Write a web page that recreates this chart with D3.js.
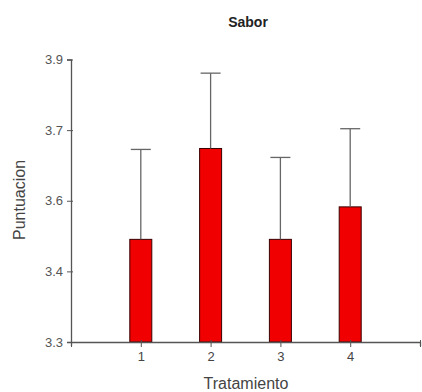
<!DOCTYPE html>
<html>
<head>
<meta charset="utf-8">
<script src="https://cdn.jsdelivr.net/npm/d3@7"></script>
<style>
  html, body { margin: 0; padding: 0; background: #fff; }
  svg { display: block; font-family: "Liberation Sans", Arial, sans-serif; }
</style>
</head>
<body>
<svg id="chart" width="422" height="392"></svg>
<script>
// Mean score per treatment and the upper end of its error bar
const treatments = [1, 2, 3, 4];
const means = [3.518, 3.711, 3.518, 3.587];
const upperErr = [3.709, 3.871, 3.692, 3.753];
const yTickValues = [3.3, 3.45, 3.6, 3.75, 3.9];
const yTickLabels = ["3.3", "3.4", "3.6", "3.7", "3.9"];
const xTickValues = [0, 1, 2, 3, 4, 5];
const xTickLabels = ["", "1", "2", "3", "4", ""];

const svg = d3.select("#chart");
const plotLeft = 71, plotRight = 420, plotTop = 59.5, plotBottom = 342;

const x = d3.scaleLinear().domain([0, 5]).range([plotLeft, plotRight]);
const y = d3.scaleLinear().domain([3.3, 3.9]).range([plotBottom, plotTop]);

const axisColor = "#555";
const barW = 22;

// Bars
svg.append("g").selectAll("rect")
  .data(treatments)
  .join("rect")
  .attr("x", (d) => x(d) - barW / 2)
  .attr("y", (d, i) => y(means[i]))
  .attr("width", barW)
  .attr("height", (d, i) => y(3.3) - y(means[i]))
  .attr("fill", "#f00000")
  .attr("stroke", "#3a0000")
  .attr("stroke-width", 1);

// Error bars (upper side only)
const eb = svg.append("g").attr("stroke", "#666").attr("stroke-width", 1.3);
eb.selectAll("line.stem")
  .data(treatments)
  .join("line")
  .attr("class", "stem")
  .attr("x1", (d) => x(d)).attr("x2", (d) => x(d))
  .attr("y1", (d, i) => y(means[i]))
  .attr("y2", (d, i) => y(upperErr[i]));
eb.selectAll("line.cap")
  .data(treatments)
  .join("line")
  .attr("class", "cap")
  .attr("x1", (d) => x(d) - 10).attr("x2", (d) => x(d) + 10)
  .attr("y1", (d, i) => y(upperErr[i]))
  .attr("y2", (d, i) => y(upperErr[i]));

// Y axis
const yAxis = d3.axisLeft(y)
  .tickValues(yTickValues)
  .tickFormat((d, i) => yTickLabels[i])
  .tickSize(4)
  .tickPadding(4);
const gy = svg.append("g").attr("transform", `translate(${plotLeft},0)`).call(yAxis);
gy.select(".domain").attr("stroke", axisColor).attr("stroke-width", 1.3);
gy.selectAll(".tick line").attr("stroke", axisColor).attr("x2", -4).attr("x1", 2);
gy.selectAll(".tick text").attr("fill", "#555").attr("font-size", 13)
  .attr("font-family", "'Liberation Sans Narrow', 'Liberation Sans', sans-serif");

// X axis
const xAxis = d3.axisBottom(x)
  .tickValues(xTickValues)
  .tickFormat((d, i) => xTickLabels[i])
  .tickSize(4)
  .tickPadding(6);
const gx = svg.append("g").attr("transform", `translate(0,${plotBottom})`).call(xAxis);
gx.select(".domain").attr("stroke", axisColor).attr("stroke-width", 1.3);
gx.selectAll(".tick line").attr("stroke", axisColor).attr("y1", -2).attr("y2", 5);
gx.selectAll(".tick text").attr("fill", "#444").attr("font-size", 13);

// Titles
svg.append("text")
  .attr("x", 248).attr("y", 27)
  .attr("text-anchor", "middle")
  .attr("font-size", 14).attr("font-weight", "bold")
  .attr("fill", "#222")
  .text("Sabor");

svg.append("text")
  .attr("x", 246).attr("y", 389)
  .attr("text-anchor", "middle")
  .attr("font-size", 16)
  .attr("fill", "#444")
  .text("Tratamiento");

svg.append("text")
  .attr("transform", "translate(25,200) rotate(-90)")
  .attr("text-anchor", "middle")
  .attr("font-size", 16)
  .attr("fill", "#444")
  .text("Puntuacion");
</script>
</body>
</html>
